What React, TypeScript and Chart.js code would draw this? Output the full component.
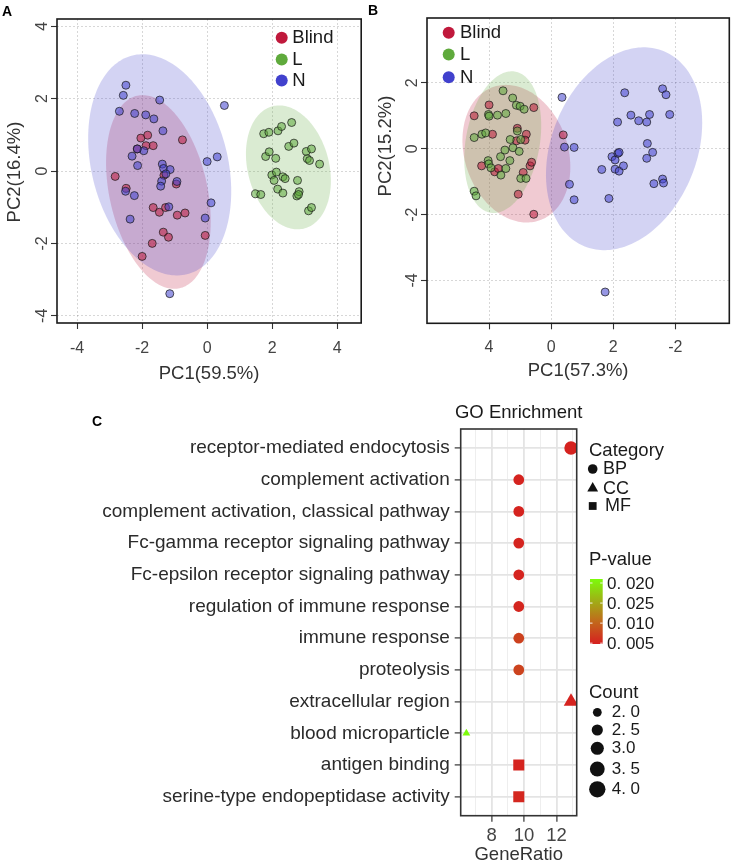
import React, { useEffect, useRef } from "react";
import { Chart, registerables } from "chart.js";

Chart.register(...registerables);

const FONT = "'Liberation Sans', Arial, Helvetica, sans-serif";
const TICK_COLOR = "#444444";
const TITLE_COLOR = "#333333";
const AXIS_COLOR = "#333333";
const GRID_COLOR = "rgba(0,0,0,0.2)";

// ---------- shared groups ----------
const GROUPS = ["Blind", "L", "N"];
const GROUP_COLORS = [
  [192, 25, 60],
  [95, 170, 60],
  [65, 65, 205],
];

// ---------- Panel A data (PC1 59.5%, PC2 16.4%) ----------
const A_BLIND_X = [-2.04, -1.83, -1.88, -1.66, -0.76, -2.83, -2.49, -1.66, -1.47, -1.28, -0.92, -0.68, -1.35, -1.19, -1.69, -2.0, -0.06, -0.95, -1.33, -2.15];
const A_BLIND_Y = [0.91, 0.99, 0.7, 0.7, 0.86, -0.15, -0.48, -1.01, -1.14, -1.01, -1.22, -1.16, -1.69, -1.83, -2.0, -2.36, -1.78, -0.36, -0.12, 0.61];
const A_L_X = [1.74, 1.9, 2.18, 2.29, 2.6, 2.51, 2.67, 1.8, 1.91, 2.11, 3.05, 3.21, 3.08, 3.15, 3.46, 1.99, 2.13, 2.06, 2.33, 2.4, 2.78, 1.49, 1.65, 2.17, 2.33, 2.76, 2.83, 2.81, 3.12, 3.21];
const A_L_Y = [1.03, 1.07, 1.11, 1.23, 1.34, 0.68, 0.77, 0.4, 0.53, 0.35, 0.54, 0.61, 0.34, 0.29, 0.19, -0.11, -0.03, -0.26, -0.16, -0.21, -0.26, -0.63, -0.65, -0.5, -0.61, -0.69, -0.57, -0.65, -1.1, -1.01];
const A_N_X = [-2.5, -2.58, -2.7, -2.23, -1.89, -1.64, -1.46, -1.36, 0.53, -1.95, -2.31, -2.14, -1.38, -1.34, -1.14, -1.27, -1.4, -1.43, 0.0, 0.31, -2.51, -2.24, -0.93, -1.18, 0.12, -2.37, -0.06, -1.15, -2.15];
const A_N_Y = [2.37, 2.09, 1.65, 1.59, 1.55, 1.44, 1.96, 1.11, 1.81, 0.56, 0.41, 0.15, 0.19, 0.07, 0.04, -0.08, -0.28, -0.42, 0.26, 0.39, -0.56, -0.68, -0.29, -0.99, -0.88, -1.33, -1.3, -3.39, 0.61];
// confidence ellipses (Blind, L, N): centre, semi-axes, angle (deg)
const A_ELL_CX = [-1.5, 2.5, -1.46];
const A_ELL_CY = [-0.58, 0.1, 0.17];
const A_ELL_A = [2.74, 1.76, 3.14];
const A_ELL_B = [1.5, 1.24, 2.08];
const A_ELL_ANG = [-75.2, -70.8, -72.2];
const A_X_TICKS = [-4, -2, 0, 2, 4];
const A_X_LABELS = ["-4", "-2", "0", "2", "4"];
const A_Y_TICKS = [-4, -2, 0, 2, 4];
const A_Y_LABELS = ["-4", "-2", "0", "2", "4"];

// ---------- Panel B data (PC1 57.3%, PC2 15.2%) ----------
const B_BLIND_X = [4.48, 4.0, 3.89, 2.56, 3.09, 2.8, 2.84, 3.12, 4.24, 3.82, 3.7, 2.9, 2.68, 2.63, 3.06, 2.56, 1.61];
const B_BLIND_Y = [1.0, 1.33, 0.44, 1.25, 0.62, 0.44, 0.26, 0.24, -0.52, -0.7, -0.6, -0.72, -0.52, -0.41, -1.38, -1.99, 0.42];
const B_L_X = [3.55, 3.24, 3.12, 3.0, 2.87, 3.46, 3.73, 4.02, 4.0, 4.48, 4.23, 4.11, 3.09, 3.32, 2.98, 3.23, 3.49, 3.03, 4.03, 4.01, 3.94, 3.63, 3.33, 3.46, 3.62, 2.98, 2.81, 4.48, 4.42];
const B_L_Y = [1.76, 1.54, 1.32, 1.29, 1.2, 1.07, 1.02, 1.04, 0.99, 0.34, 0.44, 0.48, 0.54, 0.28, 0.28, 0.03, -0.04, -0.08, -0.36, -0.46, -0.58, -0.24, -0.36, -0.6, -0.8, -0.9, -0.9, -1.29, -1.43];
const B_N_X = [1.65, -0.37, -1.59, -1.7, -1.82, -0.57, -0.82, -1.08, -1.17, -0.14, 1.57, 1.26, -1.1, -1.27, -1.08, 0.04, -0.06, -0.15, -0.19, 0.37, -0.06, -0.19, -0.33, 1.41, 1.26, 0.14, -1.31, -1.59, -1.62, 0.26];
const B_N_Y = [1.56, 1.7, 1.82, 1.64, 1.04, 1.02, 0.85, 0.81, 1.04, 0.81, 0.05, 0.04, 0.16, -0.11, -0.29, -0.24, -0.34, -0.14, -0.11, -0.63, -0.62, -0.68, -0.52, -1.08, -1.55, -1.51, -1.06, -0.92, -1.04, -4.35];
const B_ELL_CX = [3.12, 3.56, -0.35];
const B_ELL_CY = [-0.15, 0.2, 0.0];
const B_ELL_A = [2.16, 2.18, 3.23];
const B_ELL_B = [1.65, 1.19, 2.32];
const B_ELL_ANG = [66.9, -79, -64.3];
const B_X_TICKS = [4, 2, 0, -2];
const B_X_LABELS = ["4", "0", "2", "-2"];
const B_Y_TICKS = [-4, -2, 0, 2];
const B_Y_LABELS = ["-4", "-2", "0", "2"];

// ---------- Panel C data (GO enrichment) ----------
const GO_TERMS = [
  "receptor-mediated endocytosis",
  "complement activation",
  "complement activation, classical pathway",
  "Fc-gamma receptor signaling pathway",
  "Fc-epsilon receptor signaling pathway",
  "regulation of immune response",
  "immune response",
  "proteolysis",
  "extracellular region",
  "blood microparticle",
  "antigen binding",
  "serine-type endopeptidase activity",
];
const GO_CATEGORY = ["BP", "BP", "BP", "BP", "BP", "BP", "BP", "BP", "CC", "CC", "MF", "MF"];
const GO_GENE_RATIO = [12.9, 9.68, 9.68, 9.68, 9.68, 9.68, 9.68, 9.68, 12.9, 6.45, 9.68, 9.68];
const GO_COUNT = [4, 3, 3, 3, 3, 3, 3, 3, 4, 2, 3, 3];
const GO_PVALUE = [0.005, 0.0051, 0.0051, 0.0052, 0.0052, 0.0053, 0.0074, 0.0075, 0.0051, 0.0209, 0.0052, 0.0054];
const GENE_RATIO_TICKS = [7, 8, 9, 10, 11, 12, 13];
const GENE_RATIO_MAJOR = [8, 10, 12];
const CATEGORY_NAMES = ["BP", "CC", "MF"];
const PVALUE_LEGEND_VALUES = [0.02, 0.015, 0.01, 0.005];
const PVALUE_LEGEND_LABELS = ["0. 020", "0. 025", "0. 010", "0. 005"];
const COUNT_LEGEND_VALUES = [2, 2.5, 3, 3.5, 4];
const COUNT_LEGEND_LABELS = ["2. 0", "2. 5", "3.0", "3. 5", "4. 0"];
const P_MIN = 0.0048;
const P_MAX = 0.021;

// ---------- helpers ----------
function rgba(c: number[], a: number) {
  return `rgba(${c[0]},${c[1]},${c[2]},${a})`;
}

const P_STOPS: [number, number[]][] = [
  [0, [214, 31, 31]],
  [0.35, [193, 106, 28]],
  [0.68, [158, 178, 22]],
  [1, [124, 252, 10]],
];
function pColor(p: number) {
  let t = (p - P_MIN) / (P_MAX - P_MIN);
  t = Math.max(0, Math.min(1, t));
  for (let i = 0; i < P_STOPS.length - 1; i++) {
    const [t0, c0] = P_STOPS[i];
    const [t1, c1] = P_STOPS[i + 1];
    if (t <= t1) {
      const f = (t - t0) / (t1 - t0);
      return `rgb(${Math.round(c0[0] + (c1[0] - c0[0]) * f)},${Math.round(c0[1] + (c1[1] - c0[1]) * f)},${Math.round(c0[2] + (c1[2] - c0[2]) * f)})`;
    }
  }
  return "rgb(124,252,10)";
}

const R_MIN = 3.6;
const R_MAX = 6.7;
function sizeForCount(c: number) {
  const t = (c - 2) / 2;
  return Math.sqrt(R_MIN * R_MIN + (R_MAX * R_MAX - R_MIN * R_MIN) * t);
}
const SHAPE_STYLE: Record<string, string> = { BP: "circle", CC: "triangle", MF: "rect" };
const SHAPE_SCALE: Record<string, number> = { BP: 1, CC: 1.25, MF: 1.45 };

interface PanelSpec {
  xs: number[][];
  ys: number[][];
  ell: { cx: number[]; cy: number[]; a: number[]; b: number[]; ang: number[] };
  xMin: number;
  xMax: number;
  xReverse: boolean;
  xTicks: number[];
  xLabels: string[];
  yMin: number;
  yMax: number;
  yTicks: number[];
  yLabels: string[];
  xTitle: string;
  yTitle: string;
  padTop: number;
  padRight: number;
  yAxisWidth: number;
  xAxisHeight: number;
  xTickPad: number;
  xTitlePadBottom: number;
  yTitlePos: [number, number];
  legendDotX: number;
  legendTextX: number;
  legendY: number[];
}

function ellipsePlugin(p: PanelSpec) {
  return {
    id: "ellipses",
    beforeDatasetsDraw(chart: any) {
      const { ctx, chartArea, scales } = chart;
      ctx.save();
      ctx.beginPath();
      ctx.rect(chartArea.left, chartArea.top, chartArea.right - chartArea.left, chartArea.bottom - chartArea.top);
      ctx.clip();
      for (let g = 0; g < p.ell.cx.length; g++) {
        const th = (p.ell.ang[g] * Math.PI) / 180;
        ctx.beginPath();
        for (let k = 0; k <= 200; k++) {
          const t = (k / 200) * Math.PI * 2;
          const dx = p.ell.a[g] * Math.cos(t);
          const dy = p.ell.b[g] * Math.sin(t);
          const X = p.ell.cx[g] + dx * Math.cos(th) - dy * Math.sin(th);
          const Y = p.ell.cy[g] + dx * Math.sin(th) + dy * Math.cos(th);
          const px = scales.x.getPixelForValue(X);
          const py = scales.y.getPixelForValue(Y);
          if (k === 0) ctx.moveTo(px, py);
          else ctx.lineTo(px, py);
        }
        ctx.closePath();
        ctx.fillStyle = rgba(GROUP_COLORS[g], 0.23);
        ctx.fill();
      }
      ctx.restore();
    },
  };
}

function decorPlugin(p: PanelSpec) {
  return {
    id: "decor",
    afterDraw(chart: any) {
      const { ctx, chartArea } = chart;
      ctx.save();
      ctx.strokeStyle = "#1a1a1a";
      ctx.lineWidth = 1.6;
      ctx.strokeRect(chartArea.left, chartArea.top, chartArea.right - chartArea.left, chartArea.bottom - chartArea.top);
      ctx.font = `18.5px ${FONT}`;
      ctx.textBaseline = "middle";
      ctx.textAlign = "left";
      GROUPS.forEach((g, i) => {
        ctx.beginPath();
        ctx.arc(p.legendDotX, p.legendY[i], 6, 0, Math.PI * 2);
        ctx.fillStyle = rgba(GROUP_COLORS[i], 1);
        ctx.fill();
        ctx.fillStyle = "#1a1a1a";
        ctx.fillText(g, p.legendTextX, p.legendY[i] + 0.5);
      });
      ctx.translate(p.yTitlePos[0], p.yTitlePos[1]);
      ctx.rotate(-Math.PI / 2);
      ctx.textAlign = "center";
      ctx.fillStyle = TITLE_COLOR;
      ctx.fillText(p.yTitle, 0, 0);
      ctx.restore();
    },
  };
}

function scatterConfig(p: PanelSpec): any {
  return {
    type: "scatter",
    data: {
      datasets: GROUPS.map((g, i) => ({
        label: g,
        data: p.xs[i].map((x, j) => ({ x, y: p.ys[i][j] })),
        backgroundColor: rgba(GROUP_COLORS[i], 0.55),
        borderColor: "rgba(25,25,25,0.9)",
        borderWidth: 0.8,
        pointRadius: 4,
        pointHoverRadius: 4,
        order: GROUPS.length - i,
      })),
    },
    options: {
      responsive: false,
      animation: false,
      events: [],
      layout: { padding: { left: 0, top: p.padTop, right: p.padRight, bottom: 0 } },
      plugins: { legend: { display: false }, tooltip: { enabled: false } },
      scales: {
        x: {
          type: "linear",
          bounds: "data",
          min: p.xMin,
          max: p.xMax,
          reverse: p.xReverse,
          afterBuildTicks: (s: any) => {
            s.ticks = p.xTicks.map((v) => ({ value: v }));
          },
          afterFit: (s: any) => {
            s.height = p.xAxisHeight;
          },
          ticks: {
            autoSkip: false,
            minRotation: 0,
            maxRotation: 0,
            padding: p.xTickPad,
            color: TICK_COLOR,
            font: { family: FONT, size: 16 },
            callback: (v: number) => {
              const i = p.xTicks.indexOf(v);
              return i >= 0 ? p.xLabels[i] : "";
            },
          },
          grid: { color: GRID_COLOR, lineWidth: 0.8, drawTicks: true, tickLength: 6, tickColor: AXIS_COLOR, tickWidth: 1.1, tickBorderDash: [] },
          border: { display: false, dash: [2, 2] },
          title: {
            display: true,
            text: p.xTitle,
            color: TITLE_COLOR,
            font: { family: FONT, size: 18.5 },
            padding: { top: 0, bottom: p.xTitlePadBottom },
          },
        },
        y: {
          type: "linear",
          bounds: "data",
          min: p.yMin,
          max: p.yMax,
          afterBuildTicks: (s: any) => {
            s.ticks = p.yTicks.map((v) => ({ value: v }));
          },
          afterFit: (s: any) => {
            s.width = p.yAxisWidth;
          },
          ticks: {
            autoSkip: false,
            minRotation: 90,
            maxRotation: 90,
            crossAlign: "center",
            padding: 1,
            color: TICK_COLOR,
            font: { family: FONT, size: 16 },
            callback: (v: number) => {
              const i = p.yTicks.indexOf(v);
              return i >= 0 ? p.yLabels[i] : "";
            },
          },
          grid: { color: GRID_COLOR, lineWidth: 0.8, drawTicks: true, tickLength: 6, tickColor: AXIS_COLOR, tickWidth: 1.1, tickBorderDash: [] },
          border: { display: false, dash: [2, 2] },
          title: { display: false },
        },
      },
    },
    plugins: [ellipsePlugin(p), decorPlugin(p)],
  };
}

const PANEL_A: PanelSpec = {
  xs: [A_BLIND_X, A_L_X, A_N_X],
  ys: [A_BLIND_Y, A_L_Y, A_N_Y],
  ell: { cx: A_ELL_CX, cy: A_ELL_CY, a: A_ELL_A, b: A_ELL_B, ang: A_ELL_ANG },
  xMin: -4.62,
  xMax: 4.74,
  xReverse: false,
  xTicks: A_X_TICKS,
  xLabels: A_X_LABELS,
  yMin: -4.2,
  yMax: 4.2,
  yTicks: A_Y_TICKS,
  yLabels: A_Y_LABELS,
  xTitle: "PC1(59.5%)",
  yTitle: "PC2(16.4%)",
  padTop: 19,
  padRight: 3,
  yAxisWidth: 57,
  xAxisHeight: 67,
  xTickPad: 10,
  xTitlePadBottom: 5.4,
  yTitlePos: [15, 172],
  legendDotX: 281.7,
  legendTextX: 292.3,
  legendY: [37.7, 59.5, 80.5],
};

const PANEL_B: PanelSpec = {
  xs: [B_BLIND_X, B_L_X, B_N_X],
  ys: [B_BLIND_Y, B_L_Y, B_N_Y],
  ell: { cx: B_ELL_CX, cy: B_ELL_CY, a: B_ELL_A, b: B_ELL_B, ang: B_ELL_ANG },
  xMin: -3.74,
  xMax: 6.0,
  xReverse: true,
  xTicks: B_X_TICKS,
  xLabels: B_X_LABELS,
  yMin: -5.3,
  yMax: 3.97,
  yTicks: B_Y_TICKS,
  yLabels: B_Y_LABELS,
  xTitle: "PC1(57.3%)",
  yTitle: "PC2(15.2%)",
  padTop: 18,
  padRight: 6.7,
  yAxisWidth: 61,
  xAxisHeight: 66.7,
  xTickPad: 9,
  xTitlePadBottom: 8.4,
  yTitlePos: [20, 146],
  legendDotX: 82.7,
  legendTextX: 94,
  legendY: [32.7, 54.5, 77.3],
};

// ---------- Panel C ----------
const C_LEG = {
  x: 589,
  catTitleY: 61,
  catY: [79, 98.3, 116],
  catKeyX: 592.7,
  catTextX: [603, 603, 605],
  pTitleY: 170,
  barX: 590,
  barW: 12.7,
  barTop: 189,
  barBottom: 254,
  pTextX: 607,
  countTitleY: 302.7,
  countY: [322.3, 340, 358.3, 379, 399.3],
  countKeyX: 597.3,
  countTextX: 611.7,
  goTitleY: 23,
};

function drawShape(ctx: CanvasRenderingContext2D, shape: string, x: number, y: number) {
  ctx.beginPath();
  if (shape === "BP") {
    ctx.arc(x, y, 4.8, 0, Math.PI * 2);
  } else if (shape === "CC") {
    ctx.moveTo(x, y - 6.2);
    ctx.lineTo(x - 5.4, y + 3.2);
    ctx.lineTo(x + 5.4, y + 3.2);
    ctx.closePath();
  } else {
    ctx.rect(x - 3.9, y - 3.9, 7.8, 7.8);
  }
  ctx.fill();
}

const goDecorPlugin = {
  id: "goDecor",
  afterDraw(chart: any) {
    const { ctx, chartArea } = chart;
    ctx.save();
    ctx.strokeStyle = "#333333";
    ctx.lineWidth = 1.6;
    ctx.strokeRect(chartArea.left, chartArea.top, chartArea.right - chartArea.left, chartArea.bottom - chartArea.top);

    ctx.fillStyle = "#1a1a1a";
    ctx.textBaseline = "middle";
    ctx.textAlign = "center";
    ctx.font = `18.5px ${FONT}`;
    ctx.fillText("GO Enrichment", (chartArea.left + chartArea.right) / 2, C_LEG.goTitleY);

    ctx.textAlign = "left";
    ctx.fillText("Category", C_LEG.x, C_LEG.catTitleY);
    ctx.font = `18px ${FONT}`;
    CATEGORY_NAMES.forEach((c, i) => {
      ctx.fillStyle = "#111111";
      drawShape(ctx, c, C_LEG.catKeyX, C_LEG.catY[i]);
      ctx.fillStyle = "#1a1a1a";
      ctx.fillText(c, C_LEG.catTextX[i], C_LEG.catY[i] + 0.5);
    });

    ctx.font = `18.5px ${FONT}`;
    ctx.fillText("P-value", C_LEG.x, C_LEG.pTitleY);
    const grad = ctx.createLinearGradient(0, C_LEG.barBottom, 0, C_LEG.barTop);
    for (let k = 0; k <= 20; k++) {
      const t = k / 20;
      grad.addColorStop(t, pColor(P_MIN + (P_MAX - P_MIN) * t));
    }
    ctx.fillStyle = grad;
    ctx.fillRect(C_LEG.barX, C_LEG.barTop, C_LEG.barW, C_LEG.barBottom - C_LEG.barTop);
    ctx.font = `17px ${FONT}`;
    PVALUE_LEGEND_VALUES.forEach((v, i) => {
      const y = C_LEG.barBottom - ((v - P_MIN) / (P_MAX - P_MIN)) * (C_LEG.barBottom - C_LEG.barTop);
      ctx.strokeStyle = "rgba(255,255,255,0.9)";
      ctx.lineWidth = 1;
      ctx.beginPath();
      ctx.moveTo(C_LEG.barX, y);
      ctx.lineTo(C_LEG.barX + 2.5, y);
      ctx.moveTo(C_LEG.barX + C_LEG.barW - 2.5, y);
      ctx.lineTo(C_LEG.barX + C_LEG.barW, y);
      ctx.stroke();
      ctx.fillStyle = "#1a1a1a";
      ctx.fillText(PVALUE_LEGEND_LABELS[i], C_LEG.pTextX, y + 1.5);
    });

    ctx.font = `18.5px ${FONT}`;
    ctx.fillText("Count", C_LEG.x, C_LEG.countTitleY);
    ctx.font = `17px ${FONT}`;
    COUNT_LEGEND_VALUES.forEach((c, i) => {
      ctx.fillStyle = "#111111";
      ctx.beginPath();
      ctx.arc(C_LEG.countKeyX, C_LEG.countY[i], sizeForCount(c) * 1.22, 0, Math.PI * 2);
      ctx.fill();
      ctx.fillStyle = "#1a1a1a";
      ctx.fillText(COUNT_LEGEND_LABELS[i], C_LEG.countTextX, C_LEG.countY[i] + 0.5);
    });
    ctx.restore();
  },
};

function goConfig(): any {
  const radii = GO_COUNT.map((c, i) => sizeForCount(c) * SHAPE_SCALE[GO_CATEGORY[i]]);
  const isMajor = (v: number) => GENE_RATIO_MAJOR.indexOf(v) >= 0;
  return {
    type: "scatter",
    data: {
      datasets: [
        {
          label: "GO",
          data: GO_TERMS.map((_, i) => ({ x: GO_GENE_RATIO[i], y: i })),
          pointStyle: GO_CATEGORY.map((c) => SHAPE_STYLE[c]),
          pointRadius: radii,
          pointHoverRadius: radii,
          backgroundColor: GO_PVALUE.map(pColor),
          borderWidth: 0,
        },
      ],
    },
    options: {
      responsive: false,
      animation: false,
      events: [],
      layout: { padding: { left: 0, top: 39, right: 159.3, bottom: 0 } },
      plugins: { legend: { display: false }, tooltip: { enabled: false } },
      scales: {
        x: {
          type: "linear",
          bounds: "data",
          min: 6.1,
          max: 13.25,
          afterBuildTicks: (s: any) => {
            s.ticks = GENE_RATIO_TICKS.map((v) => ({ value: v }));
          },
          afterFit: (s: any) => {
            s.height = 47.3;
          },
          ticks: {
            autoSkip: false,
            minRotation: 0,
            maxRotation: 0,
            padding: 3.5,
            color: TICK_COLOR,
            font: { family: FONT, size: 18.5 },
            callback: (v: number) => (isMajor(v) ? String(v) : ""),
          },
          grid: {
            color: (c: any) => (isMajor(c.tick.value) ? "#e4e4e4" : "#eeeeee"),
            lineWidth: (c: any) => (isMajor(c.tick.value) ? 1.8 : 1),
            tickColor: (c: any) => (isMajor(c.tick.value) ? AXIS_COLOR : "rgba(0,0,0,0)"),
            tickLength: 6,
            tickWidth: 1.2,
          },
          border: { display: false },
          title: {
            display: true,
            text: "GeneRatio",
            color: TITLE_COLOR,
            font: { family: FONT, size: 18.5, lineHeight: 1 },
            padding: { top: 0, bottom: -1 },
          },
        },
        y: {
          type: "linear",
          bounds: "data",
          min: -0.6,
          max: GO_TERMS.length - 0.4,
          reverse: true,
          afterBuildTicks: (s: any) => {
            s.ticks = GO_TERMS.map((_, i) => ({ value: i }));
          },
          afterFit: (s: any) => {
            s.width = 460.7;
          },
          ticks: {
            autoSkip: false,
            padding: 5,
            color: "#2b2b2b",
            font: { family: FONT, size: 19 },
            callback: (v: number) => GO_TERMS[v] ?? "",
          },
          grid: { color: "#e4e4e4", lineWidth: 1.8, tickLength: 6, tickColor: AXIS_COLOR, tickWidth: 1.2 },
          border: { display: false },
        },
      },
    },
    plugins: [goDecorPlugin],
  };
}

const panelLabel = (text: string, left: number, top: number) => (
  <div
    style={{
      position: "absolute",
      left,
      top,
      font: `bold 14px ${FONT}`,
      lineHeight: "14px",
      color: "#000",
    }}
  >
    {text}
  </div>
);

export default function App() {
  const refA = useRef<HTMLCanvasElement>(null);
  const refB = useRef<HTMLCanvasElement>(null);
  const refC = useRef<HTMLCanvasElement>(null);

  useEffect(() => {
    Chart.defaults.font.family = FONT;
    const charts: Chart[] = [];
    if (refA.current) charts.push(new Chart(refA.current, scatterConfig(PANEL_A)));
    if (refB.current) charts.push(new Chart(refB.current, scatterConfig(PANEL_B)));
    if (refC.current) charts.push(new Chart(refC.current, goConfig()));
    return () => charts.forEach((c) => c.destroy());
  }, []);

  return (
    <div
      style={{
        position: "absolute",
        left: 0,
        top: 0,
        width: 736,
        height: 863,
        background: "#ffffff",
        overflow: "hidden",
      }}
    >
      <canvas ref={refA} width={366} height={390} style={{ position: "absolute", left: 0, top: 0 }} />
      <canvas ref={refB} width={370} height={390} style={{ position: "absolute", left: 366, top: 0 }} />
      <canvas ref={refC} width={736} height={473} style={{ position: "absolute", left: 0, top: 390 }} />
      {panelLabel("A", 2, 4)}
      {panelLabel("B", 368, 3)}
      {panelLabel("C", 92, 414)}
    </div>
  );
}
